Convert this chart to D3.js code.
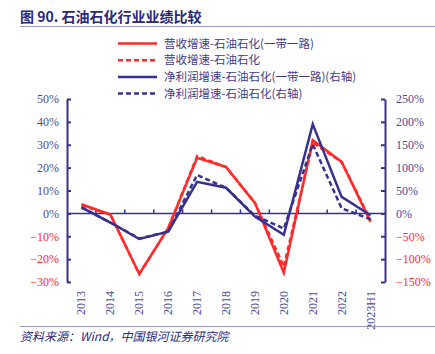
<!DOCTYPE html>
<html>
<head>
<meta charset="utf-8">
<script src="https://cdn.jsdelivr.net/npm/d3@7"></script>
<style>
  body { margin: 0; background: #fff; }
  svg text { font-family: "Liberation Serif", "Noto Sans CJK SC", serif; }
</style>
</head>
<body>
<div id="chart"></div>
<script>
var years = ['2013', '2014', '2015', '2016', '2017', '2018', '2019', '2020', '2021', '2022', '2023H1'];
var revBelt = [4, -0.5, -26.5, -6.5, 24.3, 20.3, 4.6, -26, 32, 22.5, -3.7];
var revAll = [3.5, -0.5, -26.5, -6.5, 25, 20.3, 4.6, -23.3, 31, 22.5, -3];
var profitBelt = [13, -20, -56, -40, 69, 56, -7, -47, 195, 36, -4];
var profitAll = [13, -20, -55, -40, 84, 56, -5, -33, 151, 11, -13];
var leftTicks = [50, 40, 30, 20, 10, 0, -10, -20, -30];
var rightTicks = [250, 200, 150, 100, 50, 0, -50, -100, -150];
var legendNames = ['营收增速-石油石化(一带一路)', '营收增速-石油石化', '净利润增速-石油石化(一带一路)(右轴)', '净利润增速-石油石化(右轴)'];

var width = 435, height = 354;
var red = '#ff2b2b', navy = '#36318f', tickColor = '#4d4a9c';
var x0 = 67, x1 = 385, yTop = 99, yBot = 282;

var svg = d3.select('#chart').append('svg')
  .attr('width', width)
  .attr('height', height);

// title
svg.append('text')
  .attr('x', 20).attr('y', 22)
  .attr('fill', '#2a2a7a')
  .attr('font-size', 14)
  .attr('font-weight', 'bold')
  .style('font-family', '"Noto Sans CJK SC", sans-serif')
  .text('图 90. 石油石化行业业绩比较');
svg.append('line')
  .attr('x1', 20).attr('x2', 435).attr('y1', 26.5).attr('y2', 26.5)
  .attr('stroke', '#9a98c8').attr('stroke-width', 1);

var x = d3.scaleBand().domain(years).range([x0, x1]);
var yL = d3.scaleLinear().domain([-30, 50]).range([yBot, yTop]);
var yR = d3.scaleLinear().domain([-150, 250]).range([yBot, yTop]);

// left axis
var leftAxis = svg.append('g')
  .attr('transform', 'translate(' + x0 + ',0)')
  .call(d3.axisLeft(yL).tickValues(leftTicks).tickSize(4).tickSizeOuter(0)
    .tickFormat(function(d) { return (d < 0 ? '\u2212' : '') + Math.abs(d) + '%'; }));
leftAxis.select('.domain').attr('stroke', navy).attr('stroke-width', 2);
leftAxis.selectAll('.tick line').attr('stroke', navy).attr('stroke-width', 2).attr('x1', 0).attr('x2', 4);
leftAxis.selectAll('.tick text')
  .attr('x', -8)
  .attr('font-size', 12)
  .style('font-family', '"Liberation Serif", serif')
  .attr('fill', function(d) { return d < 0 ? red : tickColor; });

// right axis
var rightAxis = svg.append('g')
  .attr('transform', 'translate(' + x1 + ',0)')
  .call(d3.axisRight(yR).tickValues(rightTicks).tickSize(4).tickSizeOuter(0)
    .tickFormat(function(d) { return (d < 0 ? '\u2212' : '') + Math.abs(d) + '%'; }));
rightAxis.select('.domain').attr('stroke', navy).attr('stroke-width', 2);
rightAxis.selectAll('.tick line').attr('stroke', navy).attr('stroke-width', 2).attr('x1', -4).attr('x2', 0);
rightAxis.selectAll('.tick text')
  .attr('x', 11)
  .attr('font-size', 12)
  .style('font-family', '"Liberation Serif", serif')
  .attr('fill', function(d) { return d < 0 ? red : tickColor; });

// zero line with category ticks
var y0 = yL(0);
svg.append('line')
  .attr('x1', x0).attr('x2', x1).attr('y1', y0).attr('y2', y0)
  .attr('stroke', navy).attr('stroke-width', 1.5);
svg.append('g').selectAll('line')
  .data(years.slice(1))
  .enter().append('line')
  .attr('x1', function(d) { return x(d); })
  .attr('x2', function(d) { return x(d); })
  .attr('y1', y0).attr('y2', y0 - 4)
  .attr('stroke', navy).attr('stroke-width', 1.5);

// category labels (rotated)
svg.append('g').selectAll('text')
  .data(years)
  .enter().append('text')
  .attr('transform', function(d) {
    return 'translate(' + (x(d) + x.bandwidth() / 2 + 4) + ',' + 291 + ') rotate(-90)';
  })
  .attr('text-anchor', 'end')
  .attr('font-size', 12)
  .attr('fill', tickColor)
  .style('font-family', '"Liberation Serif", serif')
  .text(function(d) { return d; });

// lines
var cx = function(d, i) { return x(years[i]) + x.bandwidth() / 2; };
var lineL = d3.line().x(cx).y(function(d) { return yL(d); });
var lineR = d3.line().x(cx).y(function(d) { return yR(d); });

var series = [
  { data: revBelt, line: lineL, color: red, dash: null },
  { data: revAll, line: lineL, color: red, dash: '5,3' },
  { data: profitBelt, line: lineR, color: navy, dash: null },
  { data: profitAll, line: lineR, color: navy, dash: '5,3' }
];

svg.append('g').selectAll('path')
  .data(series)
  .enter().append('path')
  .attr('d', function(s) { return s.line(s.data); })
  .attr('fill', 'none')
  .attr('stroke', function(s) { return s.color; })
  .attr('stroke-width', 2.5)
  .attr('stroke-dasharray', function(s) { return s.dash; });

// legend
var legend = svg.selectAll('.legend')
  .data(series)
  .enter().append('g')
  .attr('class', 'legend')
  .attr('transform', function(d, i) { return 'translate(118,' + (43.5 + i * 16.7) + ')'; });
legend.append('line')
  .attr('x1', 0).attr('x2', 39)
  .attr('stroke', function(s) { return s.color; })
  .attr('stroke-width', 2.5)
  .attr('stroke-dasharray', function(s) { return s.dash; });
legend.append('text')
  .attr('x', 46).attr('y', 4)
  .attr('font-size', 11.5)
  .attr('fill', '#3e3a8e')
  .style('font-family', '"Noto Sans CJK SC", serif')
  .text(function(d, i) { return legendNames[i]; });

// footer
svg.append('line')
  .attr('x1', 20).attr('x2', 435).attr('y1', 326.5).attr('y2', 326.5)
  .attr('stroke', '#9a98c8').attr('stroke-width', 1);
svg.append('text')
  .attr('x', 20).attr('y', 341)
  .attr('font-size', 12)
  .attr('font-style', 'italic')
  .attr('fill', '#2a2a7a')
  .style('font-family', '"Noto Sans CJK SC", serif')
  .text('资料来源：Wind，中国银河证券研究院');
</script>
</body>
</html>
